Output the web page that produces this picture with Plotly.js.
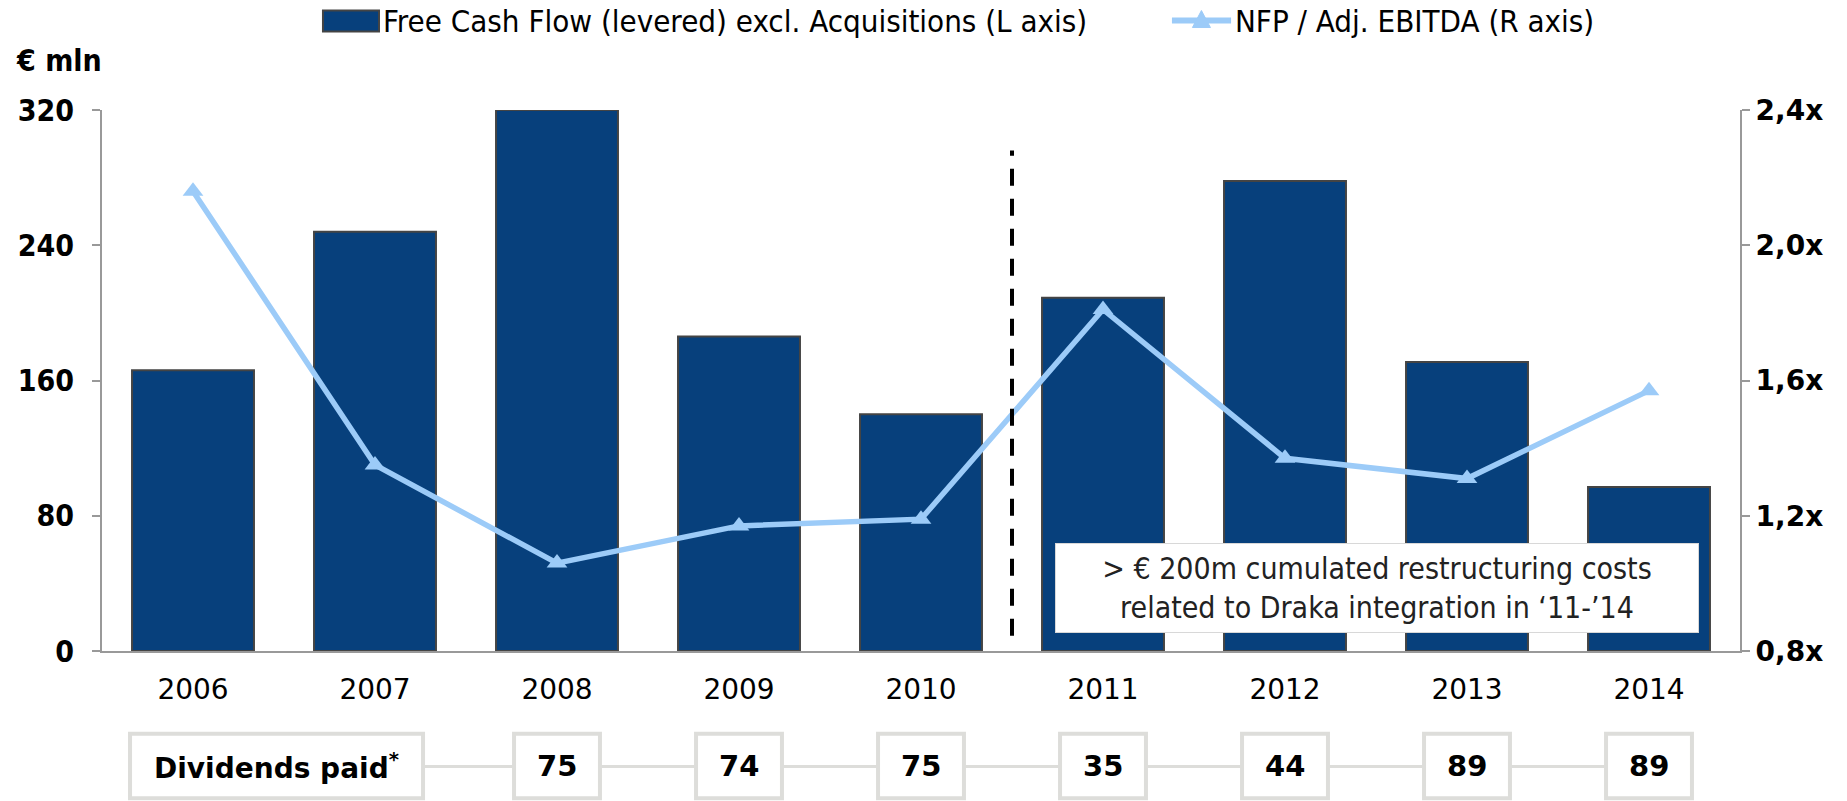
<!DOCTYPE html>
<html>
<head>
<meta charset="utf-8">
<script src="https://cdn.plot.ly/plotly-3.0.1.min.js"></script>
<style>html,body{margin:0;padding:0;background:#fff;}#chart{width:1847px;height:801px;}</style>
</head>
<body>
<div id="chart"></div>
<script>
const years = ['2006','2007','2008','2009','2010','2011','2012','2013','2014'];
const fcf = [166, 248, 320, 186, 140, 209, 278, 171, 97];
const leverage = [2.16, 1.35, 1.06, 1.17, 1.19, 1.81, 1.37, 1.31, 1.57];
const dividends = [null, null, 75, 74, 75, 35, 44, 89, 89];
const leftTicks = [0, 80, 160, 240, 320];
const rightTicks = [0.8, 1.2, 1.6, 2.0, 2.4];
const rightTickText = ['0,8x', '1,2x', '1,6x', '2,0x', '2,4x'];
const seriesNames = ['Free Cash Flow (levered) excl. Acquisitions (L axis)', 'NFP / Adj. EBITDA (R axis)'];

const COND = '"DejaVu Sans Condensed", "DejaVu Sans", sans-serif';
const WIDE = '"DejaVu Sans", Verdana, sans-serif';
const BAR_COLOR = '#07407C';
const LINE_COLOR = '#9CCBF8';
const idx = years.map((_, i) => i);

const traces = [
  {
    type: 'bar', x: idx, y: fcf, name: seriesNames[0],
    marker: {color: BAR_COLOR, line: {color: '#444444', width: 2}},
    width: 0.67, yaxis: 'y', hoverinfo: 'y', showlegend: false
  },
  {
    type: 'scatter', mode: 'lines+markers', x: idx, y: leverage, name: seriesNames[1],
    line: {color: LINE_COLOR, width: 5.5},
    marker: {symbol: 'triangle-up', size: 18, color: LINE_COLOR},
    yaxis: 'y2', hoverinfo: 'y', showlegend: false
  }
];

const shapes = [
  // separator between pre/post Draka
  {type: 'line', xref: 'x', yref: 'y', x0: 4.5, x1: 4.5, y0: 9, y1: 296,
   line: {color: '#000000', width: 4, dash: '17px,13px'}},
  // custom legend: bar swatch
  {type: 'rect', xref: 'paper', yref: 'paper', x0: 0.1349, x1: 0.1691, y0: 1.1451, y1: 1.1838,
   fillcolor: BAR_COLOR, line: {color: '#444444', width: 2}},
  // custom legend: line swatch
  {type: 'line', xref: 'paper', yref: 'paper', x0: 0.6532, x1: 0.6893, y0: 1.1654, y1: 1.1654,
   line: {color: LINE_COLOR, width: 6}},
  {type: 'path', xref: 'paper', yref: 'paper', xsizemode: 'pixel', ysizemode: 'pixel',
   xanchor: 0.6712, yanchor: 1.1654, path: 'M -9,-7 L 9,-7 L 0,10 Z',
   fillcolor: LINE_COLOR, line: {color: LINE_COLOR, width: 1}},
  // connector line for dividends row
  {type: 'line', xref: 'x', yref: 'paper', x0: 1.25, x1: 7.76, y0: -0.2133, y1: -0.2133,
   line: {color: '#DDDDDA', width: 3}, layer: 'above'},
  // Dividends paid label box
  {type: 'rect', xref: 'x', yref: 'paper', x0: -0.346, x1: 1.264, y0: -0.272, y1: -0.153,
   fillcolor: '#FFFFFF', line: {color: '#DDDDDA', width: 4}, layer: 'above'}
];
const annotations = [
  {xref: 'paper', yref: 'paper', x: 0.1703, y: 1.1654, xanchor: 'left', yanchor: 'middle',
   text: seriesNames[0], showarrow: false, font: {family: COND, size: 31, color: '#000'}},
  {xref: 'paper', yref: 'paper', x: 0.6905, y: 1.1654, xanchor: 'left', yanchor: 'middle',
   text: seriesNames[1], showarrow: false, font: {family: COND, size: 31, color: '#000'}},
  {xref: 'paper', yref: 'paper', x: -0.0537, y: 1.0915, xanchor: 'left', yanchor: 'middle',
   text: '<b>€ mln</b>', showarrow: false, font: {family: COND, size: 30, color: '#000'}},
  {xref: 'x', yref: 'y', x: 6.505, y: 37.2, xanchor: 'center', yanchor: 'middle',
   text: '> € 200m cumulated restructuring costs<br>related to Draka integration in ‘11-’14',
   showarrow: false, width: 640, height: 86, bgcolor: '#FFFFFF', bordercolor: '#D8D8D8', borderwidth: 1,
   font: {family: COND, size: 30, color: '#222222'}},
  {xref: 'x', yref: 'paper', x: 0.459, y: -0.2133, xanchor: 'center', yanchor: 'middle',
   text: '<b>Dividends paid<sup>*</sup></b>', showarrow: false, font: {family: WIDE, size: 28, color: '#000'}}
];
dividends.forEach((d, i) => {
  if (d === null) return;
  shapes.push({type: 'rect', xref: 'x', yref: 'paper', x0: i - 0.236, x1: i + 0.236, y0: -0.272, y1: -0.153,
    fillcolor: '#FFFFFF', line: {color: '#DDDDDA', width: 4}, layer: 'above'});
  annotations.push({xref: 'x', yref: 'paper', x: i, y: -0.2133, xanchor: 'center', yanchor: 'middle',
    text: '<b>' + d + '</b>', showarrow: false, font: {family: WIDE, size: 29, color: '#000'}});
});

const layout = {
  width: 1847, height: 801,
  margin: {l: 102, r: 107, t: 110, b: 150, pad: 0},
  paper_bgcolor: '#FFFFFF', plot_bgcolor: '#FFFFFF',
  showlegend: false,
  xaxis: {
    range: [-0.5, 8.5], tickmode: 'array', tickvals: idx, ticktext: years,
    showline: true, linecolor: '#999999', linewidth: 2, ticks: '', showgrid: false, zeroline: false,
    tickfont: {family: WIDE, size: 28, color: '#000'}, ticklabelstandoff: 12, fixedrange: true
  },
  yaxis: {
    range: [0, 320], tickmode: 'array', tickvals: leftTicks, ticktext: leftTicks.map(String),
    showline: true, linecolor: '#999999', linewidth: 2, ticks: 'outside', ticklen: 8, tickwidth: 2, tickcolor: '#999999',
    showgrid: false, zeroline: false, tickfont: {family: COND, size: 30, color: '#000', weight: 'bold'},
    ticklabelstandoff: 12
  },
  yaxis2: {
    range: [0.8, 2.4], overlaying: 'y', side: 'right', tickmode: 'array', tickvals: rightTicks, ticktext: rightTickText,
    showline: true, linecolor: '#999999', linewidth: 2, ticks: 'outside', ticklen: 8, tickwidth: 2, tickcolor: '#999999',
    showgrid: false, zeroline: false, tickfont: {family: WIDE, size: 28, color: '#000', weight: 'bold'},
    ticklabelstandoff: 0
  },
  shapes: shapes,
  annotations: annotations
};

Plotly.newPlot('chart', traces, layout, {displayModeBar: false, staticPlot: true});
</script>
</body>
</html>
